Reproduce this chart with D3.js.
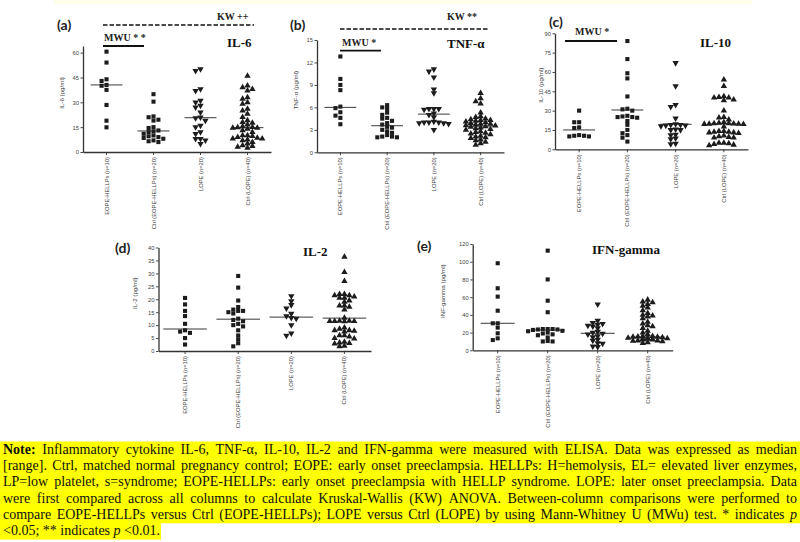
<!DOCTYPE html>
<html>
<head>
<meta charset="utf-8">
<script src="https://cdn.jsdelivr.net/npm/d3@7"></script>
<style>
  body { margin: 0; background: #fff; }
  .tick text { font-family: "Liberation Sans", Arial, sans-serif; font-size: 5.8px; fill: #444; }
  .ytitle, .cat { font-family: "Liberation Sans", Arial, sans-serif; fill: #444; }
  .plabel { font-family: Lato, "Liberation Sans", sans-serif; font-weight: bold; font-size: 14px; fill: #222; }
  .ptitle { font-family: "Liberation Serif", "Times New Roman", serif; font-weight: bold; font-size: 13px; fill: #111; }
  .stat { font-family: "Liberation Serif", "Times New Roman", serif; font-size: 10px; fill: #222; }
  .note { font-family: "Liberation Serif", "Times New Roman", serif; font-size: 14px; fill: #111; }
</style>
</head>
<body>
<div class="chart"></div>
<script>
const width = 800;
const height = 542;

const groups = ["EOPE-HELLPs (n=10)", "Ctrl (EOPE-HELLPs) (n=20)", "LOPE (n=20)", "Ctrl (LOPE) (n=40)"];

// values, one inner array per column
const il6 = [
  [60.6, 54, 43.9, 42.9, 40.5, 40, 37.5, 28.4, 18.9, 14.9],
  [34.9, 30.4, 21.5, 21, 19.5, 19, 15, 14.5, 13, 12.5, 12, 11, 10, 9.5, 9, 8.5, 8, 7, 6.5, 6],
  [50, 49, 38, 37, 31, 30, 28, 27, 24, 21, 20.5, 19, 16, 15, 12, 11, 8, 8, 7, 5],
  [46, 40, 39, 38, 37, 33, 32, 30, 29, 26, 25, 23, 21, 19, 18, 17.5, 16.5, 15.5, 15, 14.8, 14.6, 14.5, 14, 13, 12, 10, 10, 9.5, 9, 8.5, 8, 8, 7.5, 7, 6, 5, 4, 3.5, 3, 2.5]
];
const il6Median = [40.5, 12.7, 20.7, 14.7];
const il6Ticks = [0, 15, 30, 45, 60];

const tnf = [
  [12.8, 9.8, 9.0, 8.3, 6.1, 5.9, 5.35, 4.9, 4.6, 3.75],
  [6.3, 6.0, 5.8, 5.3, 5.0, 4.6, 4.5, 4.2, 3.9, 3.7, 3.4, 3.3, 3.0, 2.8, 2.6, 2.3, 2.1, 2.1, 2.0, 2.0],
  [11.1, 10.8, 10.0, 8.4, 7.9, 5.8, 5.8, 5.8, 5.7, 5.2, 5.0, 4.7, 4.1, 4.0, 4.0, 4.0, 3.9, 3.9, 3.8, 3.0],
  [7.9, 7.2, 6.8, 6.5, 5.3, 4.8, 4.7, 4.5, 4.4, 4.3, 4.3, 4.2, 4.1, 4.0, 3.9, 3.8, 3.8, 3.7, 3.6, 3.55, 3.45, 3.4, 3.3, 3.2, 3.1, 3.0, 2.8, 2.7, 2.6, 2.5, 2.4, 2.2, 2.1, 2.0, 1.9, 1.7, 1.6, 1.4, 1.2, 1.0]
];
const tnfMedian = [6.0, 3.55, 5.1, 3.5];
const tnfTicks = [0, 3, 6, 9, 12, 15];

const il10 = [
  [30, 21, 21, 17, 16.5, 11, 10.5, 10.5, 10, 10],
  [84, 70, 59, 55, 41, 31.5, 31, 30, 26, 25.5, 25, 25, 24.5, 22, 19, 15, 12.5, 11, 9, 6],
  [67, 49, 34.5, 33, 24, 19.5, 19, 19, 18.5, 18.5, 18, 15.5, 15, 15, 11.5, 11, 8.5, 8, 4.5, 4],
  [54, 49, 41, 40.5, 40, 40, 38.5, 38, 30, 25, 24.5, 23, 21, 20.5, 20, 20, 19.8, 19.7, 19.7, 19.6, 19.5, 17.5, 14, 14, 13.5, 13.5, 13, 13, 12.5, 10.5, 10, 9.5, 9, 9, 5, 5, 4.5, 4, 3.5, 3]
];
const il10Median = [15, 30.5, 19.4, 19.6];
const il10Ticks = [0, 15, 30, 45, 60, 75, 90];

const il2 = [
  [20.5, 18, 15.5, 13.5, 10.5, 8, 7.5, 7, 5, 2.5],
  [29, 24.5, 19.5, 17, 16, 15.5, 15.5, 15, 14.5, 12.5, 12, 11.5, 10.5, 10, 9.5, 8, 6, 4.5, 3, 1.8],
  [21.2, 19.3, 17.8, 16.5, 14.5, 13.5, 12.8, 12.5, 10, 6.8, 6],
  [36.4, 30.5, 27, 22, 22, 21.5, 21.5, 21, 20.5, 20.5, 19.5, 19, 17.5, 17.5, 17, 16, 12.8, 11.6, 11.6, 11.5, 11.5, 11.5, 11.4, 9, 8.5, 8, 8, 7.8, 7.5, 6, 6, 5.5, 5, 4.8, 3.5, 3.2, 3, 2.8, 2, 1.8]
];
const il2Median = [8.5, 12.3, 13.1, 12.7];
const il2Ticks = [0, 5, 10, 15, 20, 25, 30, 35, 40];

const ifn = [
  [98.3, 70, 60.6, 44.7, 30.5, 30.5, 25.6, 19.2, 13.5, 11.6],
  [112.5, 80, 56, 43, 24, 24, 24, 23.5, 23.5, 23, 22, 21.5, 20, 19, 18, 17, 14.5, 10.5, 10, 10],
  [52, 33.5, 31, 30, 29, 28, 27, 25, 21, 20, 19, 18, 16, 15, 12, 11, 8, 7.5, 4.5, 4],
  [57, 55, 54, 52, 50, 48, 45, 42, 40, 39, 38, 36, 32, 30, 28, 27, 25, 22, 20, 18, 16, 16, 15.5, 15, 15, 14.5, 14, 14, 13.5, 13, 13, 12.5, 12, 12, 11, 11, 10.5, 10, 9, 8]
];
const ifnMedian = [30.5, 23, 19.2, 15];
const ifnTicks = [0, 20, 40, 60, 80, 100, 120];

const noteLines = [
  [["Note:", "b"], [" Inflammatory cytokine IL-6, TNF-α, IL-10, IL-2 and IFN-gamma were measured with ELISA. Data was expressed as median"]],
  [["[range]. Ctrl, matched normal pregnancy control; EOPE: early onset preeclampsia. HELLPs: H=hemolysis, EL= elevated liver enzymes,"]],
  [["LP=low platelet, s=syndrome; EOPE-HELLPs: early onset preeclampsia with HELLP syndrome. LOPE: later onset preeclampsia. Data"]],
  [["were first compared across all columns to calculate Kruskal-Wallis (KW) ANOVA. Between-column comparisons were performed to"]],
  [["compare EOPE-HELLPs versus Ctrl (EOPE-HELLPs); LOPE versus Ctrl (LOPE) by using Mann-Whitney U (MWu) test. * indicates"], [" p", "i"]],
  [["<0.05; ** indicates "], ["p", "i"], [" <0.01."]]
];

const panels = [
  { tag: "(a)", tagAt: [57, 30], title: "IL-6", titleAt: [227, 47], yTitle: "IL-6 (pg/ml)", yTitleX: 62,
    values: il6, medians: il6Median, ticks: il6Ticks, yMax: 64, xr: [83, 271], yr: [152, 46], medW: 0.68,
    mwu: { text: "MWU * *", at: [104, 41], line: [103, 144, 46] }, kw: { text: "KW ++", at: [217, 20], line: [103, 254, 25] } },
  { tag: "(b)", tagAt: [290, 30], title: "TNF-α", titleAt: [447, 48], yTitle: "TNF-α (pg/ml)", yTitleX: 296,
    values: tnf, medians: tnfMedian, ticks: tnfTicks, yMax: 15, xr: [317, 504], yr: [152.3, 40], medW: 0.68,
    mwu: { text: "MWU *", at: [342, 46], line: [340, 381, 50.7] }, kw: { text: "KW **", at: [447, 20], line: [340, 488, 29] } },
  { tag: "(c)", tagAt: [549, 27], title: "IL-10", titleAt: [700, 47], yTitle: "IL-10 (pg/ml)", yTitleX: 541,
    values: il10, medians: il10Median, ticks: il10Ticks, yMax: 90, xr: [555, 748], yr: [149.3, 33.3], medW: 0.66,
    mwu: { text: "MWU *", at: [575, 35], line: [565, 617, 41] } },
  { tag: "(d)", tagAt: [115, 253], title: "IL-2", titleAt: [303, 256], yTitle: "IL-2 (pg/ml)", yTitleX: 135,
    values: il2, medians: il2Median, ticks: il2Ticks, yMax: 40, xr: [158.5, 371], yr: [351, 247.5], medW: 0.82 },
  { tag: "(e)", tagAt: [417, 251], title: "IFN-gamma", titleAt: [592, 254], yTitle: "INF-gamma (pg/ml)", yTitleX: 443,
    values: ifn, medians: ifnMedian, ticks: ifnTicks, yMax: 120, xr: [472.7, 672.7], yr: [350.3, 244], medW: 0.68 }
];

const svg = d3.select(".chart").append("svg")
    .attr("width", width).attr("height", height);

// faint strip along the top edge of the original scan
svg.append("rect").attr("x", 54).attr("y", 0).attr("width", 698).attr("height", 4)
    .attr("fill", "#fffcea");

const markSize = 4.1;
const shapes = [d3.symbolSquare, d3.symbolSquare, d3.symbolTriangle, d3.symbolTriangle];
const flips = [0, 0, 180, 0];

// column scatter: push overlapping points sideways, but stay inside the column
function swarm(vals, y, half) {
  const step = markSize + 0.8;
  const pts = vals.map(v => ({ v, py: y(v) })).sort((a, b) => a.py - b.py);
  const placed = [];
  pts.forEach(p => {
    let best = null, bestHits = Infinity;
    for (let k = 0; k < 40; k++) {
      const dx = (k % 2 ? -1 : 1) * Math.ceil(k / 2) * step;
      if (Math.abs(dx) > half) break;
      const hits = placed.filter(q => Math.abs(q.dx - dx) < step - 0.01 && Math.abs(q.py - p.py) < markSize * 0.85).length;
      if (hits === 0) { best = dx; bestHits = 0; break; }
      if (hits < bestHits) { bestHits = hits; best = dx; }
    }
    p.dx = best;
    placed.push(p);
  });
  return pts;
}

panels.forEach(cfg => {
  const g = svg.append("g");
  const x = d3.scaleBand().domain(groups).range(cfg.xr);
  const y = d3.scaleLinear().domain([0, cfg.yMax]).range(cfg.yr);
  const bw = x.bandwidth();

  // y axis
  const ya = g.append("g").attr("transform", `translate(${cfg.xr[0]},0)`)
      .call(d3.axisLeft(y).tickValues(cfg.ticks).tickSize(2.5).tickPadding(1.5).tickSizeOuter(0));
  ya.select(".domain").attr("stroke", "#333").attr("stroke-width", 1.3);
  ya.selectAll(".tick line").attr("stroke", "#333").attr("stroke-width", 0.9);

  // x axis
  const xa = g.append("g").attr("transform", `translate(0,${cfg.yr[0]})`)
      .call(d3.axisBottom(x).tickSize(3).tickFormat("").tickSizeOuter(0));
  xa.select(".domain").attr("stroke", "#333").attr("stroke-width", 1.3);
  xa.selectAll(".tick line").attr("stroke", "#333").attr("stroke-width", 0.9);

  g.selectAll(".cat").data(groups).enter().append("text")
      .attr("class", "cat")
      .attr("font-size", 5.8)
      .attr("text-anchor", "end")
      .attr("transform", d => `translate(${x(d) + bw / 2 + 2},${cfg.yr[0] + 5}) rotate(-90)`)
      .text(d => d);

  g.append("text").attr("class", "ytitle")
      .attr("font-size", 6.2)
      .attr("text-anchor", "middle")
      .attr("transform", `translate(${cfg.yTitleX + 2},${(cfg.yr[0] + cfg.yr[1]) / 2 - 6}) rotate(-90)`)
      .text(cfg.yTitle);

  // points
  cfg.values.forEach((vals, i) => {
    const cx = x(groups[i]) + bw / 2;
    const sym = d3.symbol().type(shapes[i]).size(i < 2 ? markSize * markSize : markSize * markSize * 1.05);
    g.selectAll(null).data(swarm(vals, y, bw * 0.44)).enter().append("path")
        .attr("d", sym)
        .attr("fill", "#1c1c1c")
        .attr("transform", d => `translate(${cx + d.dx},${d.py}) rotate(${flips[i]})`);
  });

  // median lines
  g.selectAll(".median").data(cfg.medians).enter().append("line")
      .attr("x1", (d, i) => x(groups[i]) + bw * (1 - cfg.medW) / 2)
      .attr("x2", (d, i) => x(groups[i]) + bw * (1 + cfg.medW) / 2)
      .attr("y1", d => y(d)).attr("y2", d => y(d))
      .attr("stroke", "#222").attr("stroke-width", 0.9);

  g.append("text").attr("class", "plabel").attr("x", cfg.tagAt[0]).attr("y", cfg.tagAt[1]).text(cfg.tag);
  g.append("text").attr("class", "ptitle").attr("x", cfg.titleAt[0]).attr("y", cfg.titleAt[1]).text(cfg.title);

  if (cfg.mwu) {
    g.append("text").attr("class", "stat").attr("font-weight", "bold")
        .attr("x", cfg.mwu.at[0]).attr("y", cfg.mwu.at[1]).text(cfg.mwu.text);
    g.append("line").attr("x1", cfg.mwu.line[0]).attr("x2", cfg.mwu.line[1])
        .attr("y1", cfg.mwu.line[2]).attr("y2", cfg.mwu.line[2])
        .attr("stroke", "#111").attr("stroke-width", 1.8);
  }
  if (cfg.kw) {
    g.append("text").attr("class", "stat").attr("font-weight", "bold")
        .attr("x", cfg.kw.at[0]).attr("y", cfg.kw.at[1]).text(cfg.kw.text);
    g.append("line").attr("x1", cfg.kw.line[0]).attr("x2", cfg.kw.line[1])
        .attr("y1", cfg.kw.line[2]).attr("y2", cfg.kw.line[2])
        .attr("stroke", "#111").attr("stroke-width", 1.6).attr("stroke-dasharray", "4.5,2");
  }
});

// note block, justified word by word like the original paragraph
const noteTop = 441.5;
const lineH = 16.3;
const left = 3, right = 797;
const note = svg.append("g");

noteLines.forEach((parts, li) => {
  const top = noteTop + li * lineH;
  const bg = note.append("rect").attr("x", 0).attr("y", top).attr("height", lineH + 0.3).attr("fill", "#ffff00");
  const t = note.append("text").attr("class", "note").attr("y", top + 12.3);
  const words = [];
  parts.forEach(([txt, st]) => {
    txt.split(" ").forEach((w, wi) => {
      if (w === "") { if (words.length) words[words.length - 1].gapAfter = true; return; }
      const span = t.append("tspan").text(w);
      if (st === "b") span.attr("font-weight", "bold");
      if (st === "i") span.attr("font-style", "italic");
      const joined = wi === 0 && words.length > 0 && !words[words.length - 1].gapAfter;
      words.push({ span, joined, gapAfter: false });
    });
  });
  words.forEach(w => { w.len = w.span.node().getComputedTextLength(); });
  const gaps = words.filter((w, i) => i > 0 && !w.joined).length;
  const total = d3.sum(words, w => w.len);
  const last = li === noteLines.length - 1;
  const gap = last ? 3.5 : (right - left - total) / gaps;
  let cx = left;
  words.forEach((w, i) => {
    if (i > 0 && !w.joined) cx += gap;
    w.span.attr("x", cx);
    cx += w.len;
  });
  bg.attr("width", last ? cx + 1 : width);
});
</script>
</body>
</html>
